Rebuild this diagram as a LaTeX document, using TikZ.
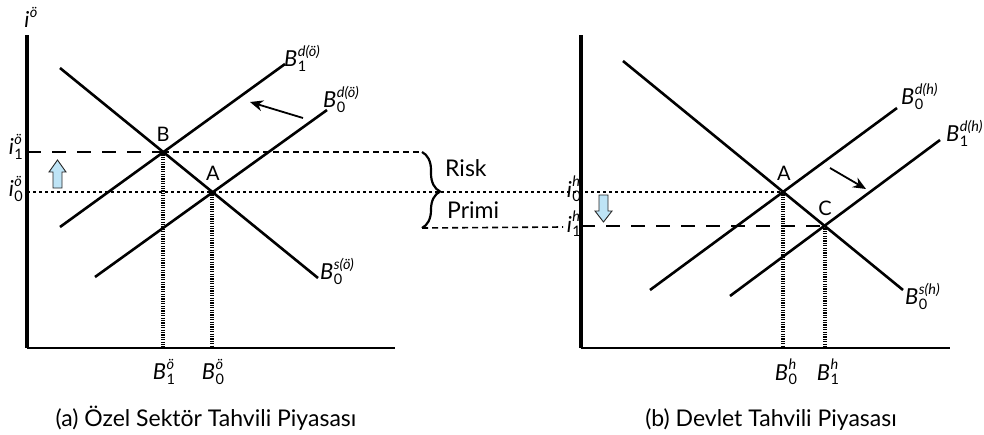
\documentclass[tikz,border=0pt]{standalone}
\usepackage{fontspec}
\setmainfont{Lato}
\usetikzlibrary{decorations.pathreplacing,arrows.meta}
\newcommand{\scrsz}{\fontsize{14.5}{14.5}\selectfont}
\newcommand{\symlab}[3]{\textit{#1}\kern0.02em\begingroup\scrsz
  \setbox0=\hbox{\textit{#2}}\setbox1=\hbox{#3}%
  \ifdim\wd0>\wd1 \dimen0=\wd0 \else \dimen0=\wd1 \fi
  \hbox to\dimen0{\rlap{\raise0.72em\box0}\lower0.32em\box1\hfil}\endgroup}
\tikzset{
  curveline/.style={line width=2.6pt},
  axisline/.style={line width=4.5pt},
  xaxisline/.style={line width=2.3pt},
  hdot/.style={line width=1.6pt, dash pattern=on 3pt off 3pt},
  sdash/.style={line width=1.6pt, dash pattern=on 6pt off 4pt},
  ldash/.style={line width=1.6pt, dash pattern=on 14pt off 11pt},
  vdot/.style={line width=3.5pt, dash pattern=on 1.2pt off 1.2pt},
  shiftarrow/.style={line width=1.8pt, -{Stealth[length=13pt,width=11pt]}},
  lbl/.style={font=\fontsize{22}{23}\selectfont, inner sep=0pt},
  ptlabel/.style={font=\fontsize{20}{20}\selectfont, inner sep=0pt},
  captext/.style={font=\fontsize{23}{25}\selectfont, inner sep=0pt},
  bluearrow/.style={fill={rgb,255:red,190;green,228;blue,246}, draw=black!85, line width=0.9pt, line join=miter}
}
\begin{document}
\begin{tikzpicture}[x=1pt,y=-1pt]
\useasboundingbox (0,0) rectangle (984,434);
% ---------------- left panel ----------------
\coordinate (LY) at (27,35);
\coordinate (LO) at (27,348);
\coordinate (LX) at (395,348);
\coordinate (B) at (163,152);
\coordinate (A) at (212,192);
\coordinate (LSs) at (60,68);   \coordinate (LSe) at (318,278);
\coordinate (LD1s) at (60,227); \coordinate (LD1e) at (285,64);
\coordinate (LD0s) at (95,277); \coordinate (LD0e) at (327,110);
\coordinate (BB) at (163,348);  \coordinate (AB) at (212,348);
\coordinate (L1) at (27,152);   \coordinate (L0) at (27,192);
\coordinate (BrT) at (422,152); \coordinate (BrB) at (422,228);
\coordinate (ArL1) at (303,118); \coordinate (ArL2) at (250,102);

\draw[vdot] (B) -- (BB);
\draw[vdot] (A) -- (AB);
\draw[ldash] (L1) -- (B);
\draw[sdash] (B) -- (BrT);
\draw[curveline] (LSs) -- (LSe);
\draw[curveline] (LD1s) -- (LD1e);
\draw[curveline] (LD0s) -- (LD0e);
\draw[shiftarrow] (ArL1) -- (ArL2);
\draw[xaxisline] (LO) -- (LX);
\draw[axisline] (LY) -- (LO);

\node[lbl] (iy) at (31,20) {\symlab{i}{ö}{}};
\node[lbl, anchor=east] (i1o) at (23,147) {\symlab{i}{ö}{1}};
\node[lbl, anchor=east] (i0o) at (23,189) {\symlab{i}{ö}{0}};
\node[ptlabel] (Blab) at (163,134) {B};
\node[ptlabel] (Alab) at (213,173) {A};
\node[lbl, anchor=west] (d1o) at (284,58) {\symlab{B}{d(ö)}{1}};
\node[lbl, anchor=west] (d0o) at (323,99) {\symlab{B}{d(ö)}{0}};
\node[lbl, anchor=west] (s0o) at (320,271) {\symlab{B}{s(ö)}{0}};
\node[lbl] (b1o) at (164,372) {\symlab{B}{ö}{1}};
\node[lbl] (b0o) at (213,372) {\symlab{B}{ö}{0}};
\node[captext, anchor=base] (capa) at (206,426) {(a) Özel Sektör Tahvili Piyasası};

\draw[bluearrow] (53,188) -- (53,172) -- (49,172) -- (57.5,160) -- (66,172) -- (62,172) -- (62,188) -- cycle;

% ---------------- middle ----------------
\draw[line width=2.2pt, decorate, decoration={brace, amplitude=18pt, aspect=0.52}] (BrT) -- (BrB);
\node[font=\fontsize{23}{24}\selectfont, inner sep=0pt, anchor=base west] (risk) at (445,176) {Risk};
\node[font=\fontsize{23}{24}\selectfont, inner sep=0pt, anchor=base west] (primi) at (447,218) {Primi};

% ---------------- right panel ----------------
\coordinate (RY) at (581,35);
\coordinate (RO) at (581,348);
\coordinate (RX) at (950,348);
\coordinate (RA) at (783,192);
\coordinate (RC) at (825,226);
\coordinate (RSs) at (623,61);  \coordinate (RSe) at (903,290);
\coordinate (RD0s) at (650,290); \coordinate (RD0e) at (897,108);
\coordinate (RD1s) at (730,296); \coordinate (RD1e) at (940,140);
\coordinate (RAB) at (783,348); \coordinate (RCB) at (825,348);
\coordinate (R1) at (581,226);  \coordinate (R1m) at (563,227);
\coordinate (ArR1) at (830,168); \coordinate (ArR2) at (866,189);

\draw[hdot] (L0) -- (RA);
\draw[sdash] (BrB) -- (R1m);
\draw[ldash] (R1) -- (RC);
\draw[vdot] (RA) -- (RAB);
\draw[vdot] (RC) -- (RCB);
\draw[curveline] (RSs) -- (RSe);
\draw[curveline] (RD0s) -- (RD0e);
\draw[curveline] (RD1s) -- (RD1e);
\draw[shiftarrow] (ArR1) -- (ArR2);
\draw[xaxisline] (RO) -- (RX);
\draw[axisline] (RY) -- (RO);

\node[lbl, anchor=east] (i0h) at (581,189) {\symlab{i}{h}{0}};
\node[lbl, anchor=east] (i1h) at (581,224) {\symlab{i}{h}{1}};
\node[ptlabel] (RAlab) at (784,173) {A};
\node[ptlabel] (RClab) at (825,208) {C};
\node[lbl, anchor=west] (d0h) at (901,96) {\symlab{B}{d(h)}{0}};
\node[lbl, anchor=west] (d1h) at (946,133) {\symlab{B}{d(h)}{1}};
\node[lbl, anchor=west] (s0h) at (905,296) {\symlab{B}{s(h)}{0}};
\node[lbl] (b0h) at (786,372) {\symlab{B}{h}{0}};
\node[lbl] (b1h) at (828,372) {\symlab{B}{h}{1}};
\node[captext, anchor=base] (capb) at (771,426) {(b) Devlet Tahvili Piyasası};

\draw[bluearrow] (599,195) -- (599,211) -- (595,211) -- (603.5,222) -- (612,211) -- (608,211) -- (608,195) -- cycle;
\end{tikzpicture}
\end{document}
